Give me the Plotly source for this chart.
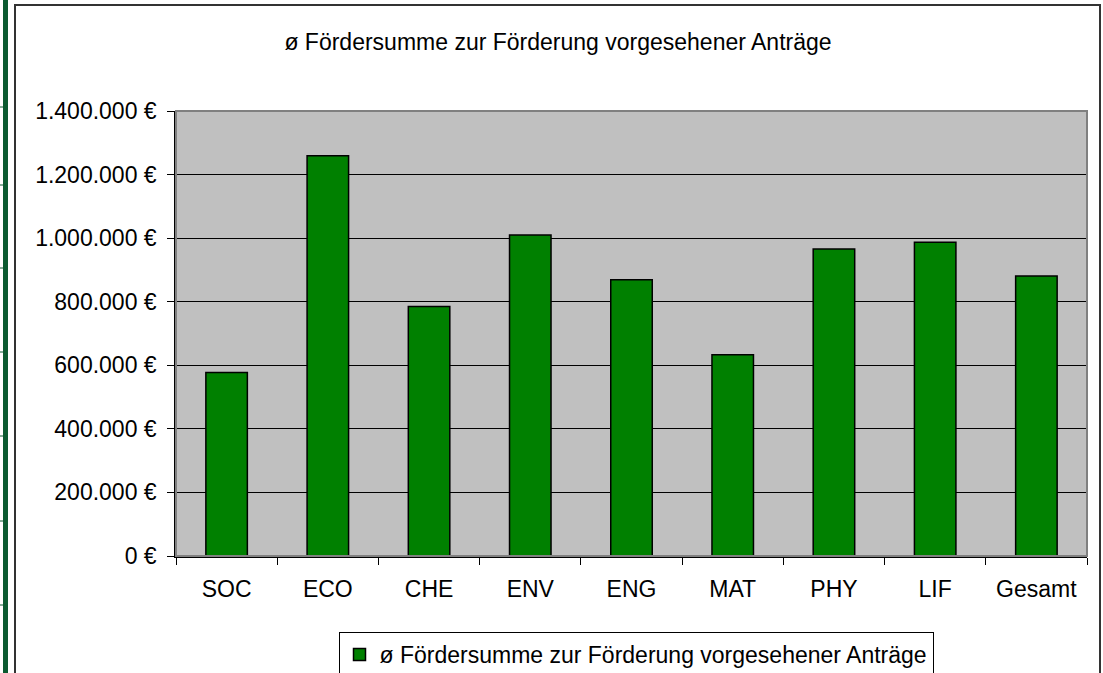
import plotly.graph_objects as go

categories = ["SOC", "ECO", "CHE", "ENV", "ENG", "MAT", "PHY", "LIF", "Gesamt"]
values = [577000, 1259000, 785000, 1010000, 869000, 633000, 966000, 987000, 881000]
series_name = "ø Fördersumme zur Förderung vorgesehener Anträge"
title_text = "ø Fördersumme zur Förderung vorgesehener Anträge"
y_tickvals = [0, 200000, 400000, 600000, 800000, 1000000, 1200000, 1400000]
y_ticktext = ["0 €", "200.000 €", "400.000 €", "600.000 €", "800.000 €",
              "1.000.000 €", "1.200.000 €", "1.400.000 €"]

W, H = 1103, 673
L, R, T, B = 176, 1087, 111, 556
FONT = "Liberation Sans, Arial, sans-serif"


def px_x(p):
    return (p - L) / (R - L)


def px_y(p):
    return (B - p) / (B - T)


fig = go.Figure()
fig.add_trace(go.Bar(
    x=categories, y=values, name=series_name,
    marker=dict(color="#008000", line=dict(color="#000000", width=1.5)),
    showlegend=True,
))

shapes = [
    # plot area frame (top/right gray)
    dict(type="rect", xref="paper", yref="paper", x0=0, x1=1, y0=0, y1=1,
         line=dict(color="#808080", width=2), layer="above"),
    # outer chart border
    dict(type="rect", xref="paper", yref="paper",
         x0=px_x(15), x1=px_x(1100), y0=px_y(690), y1=px_y(5),
         line=dict(color="#333333", width=2), layer="below"),
    # spreadsheet green strip on the left
    dict(type="rect", xref="paper", yref="paper",
         x0=px_x(3), x1=px_x(8), y0=px_y(680), y1=px_y(-5),
         fillcolor="#0b5a30", line=dict(width=0), layer="below"),
]
for yy in [107, 185, 268, 352, 436, 521, 605]:
    shapes.append(dict(type="line", xref="paper", yref="paper",
                       x0=px_x(0), x1=px_x(3), y0=px_y(yy), y1=px_y(yy),
                       line=dict(color="#0b5a30", width=1)))

fig.update_layout(
    width=W, height=H,
    margin=dict(l=L, r=W - R, t=T, b=H - B, pad=0),
    paper_bgcolor="white",
    plot_bgcolor="#C0C0C0",
    font=dict(family=FONT, size=23, color="#000000"),
    bargap=0.59,
    title=dict(text=title_text, x=558 / W, xanchor="center",
               y=1 - 42 / H, yanchor="middle",
               font=dict(family=FONT, size=23, color="#000000")),
    xaxis=dict(
        type="category", showgrid=False, showline=True,
        linecolor="#000000", linewidth=1.5,
        ticks="outside", tickson="boundaries", ticklen=7,
        tickcolor="#000000", tickwidth=1,
        tickfont=dict(family=FONT, size=23, color="#000000"),
        ticklabelstandoff=12,
    ),
    yaxis=dict(
        range=[0, 1400000], tickvals=y_tickvals, ticktext=y_ticktext,
        showgrid=True, gridcolor="#000000", gridwidth=1,
        showline=True, linecolor="#000000", linewidth=1.5,
        ticks="outside", ticklen=7, tickcolor="#000000", tickwidth=1,
        tickfont=dict(family=FONT, size=23, color="#000000"),
        zeroline=False, ticklabelstandoff=6,
    ),
    legend=dict(
        orientation="h", xref="container", yref="container",
        x=636 / W, xanchor="center",
        y=1 - 632 / H, yanchor="top",
        bordercolor="#000000", borderwidth=1, bgcolor="white",
        font=dict(family=FONT, size=23, color="#000000"),
    ),
    shapes=shapes,
)

fig.write_html("out.html", config={"displayModeBar": False},
               post_script="document.body.style.margin='0px';")
